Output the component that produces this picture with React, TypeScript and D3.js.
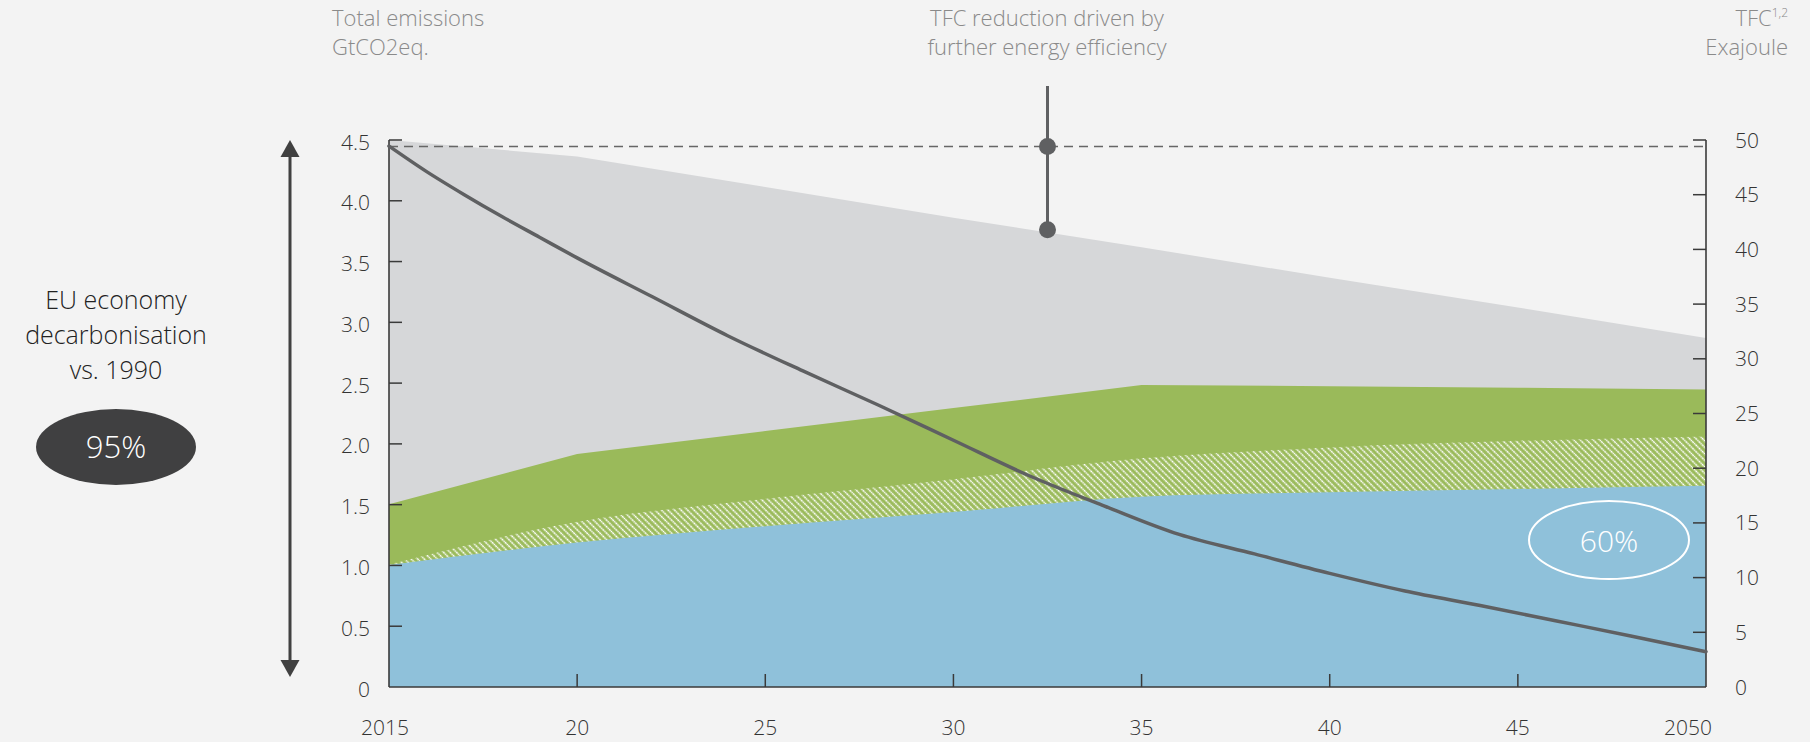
import React from "react";
import * as d3 from "d3";

// Final energy consumption by carrier (Exajoule, right axis)
const years = [2015, 2020, 2025, 2030, 2035, 2040, 2045, 2050];
const tfcTotal = [50.0, 48.5, 45.7, 42.9, 40.2, 37.4, 34.7, 31.9];
const tfcGreen = [16.7, 21.3, 23.4, 25.5, 27.6, 27.5, 27.35, 27.2];
const tfcHatched = [11.2, 15.1, 17.2, 19.0, 20.9, 21.9, 22.5, 22.9];
const tfcBlue = [11.15, 13.2, 14.7, 16.0, 17.4, 17.8, 18.1, 18.4];

// Total emissions (GtCO2eq., left axis)
const emissionYears = [2015, 2016, 2017, 2018, 2019, 2020, 2022, 2024, 2026, 2028, 2030, 2032, 2034, 2036, 2038, 2040, 2042, 2044, 2046, 2048, 2050];
const emissions = [4.45, 4.24, 4.05, 3.87, 3.7, 3.53, 3.21, 2.89, 2.6, 2.32, 2.03, 1.74, 1.49, 1.255, 1.095, 0.935, 0.79, 0.67, 0.545, 0.42, 0.29];

// Reference level and efficiency bracket (Exajoule)
const referenceLevel = 49.4;
const efficiencyYear = 2032.5;
const efficiencyFrom = 49.4;
const efficiencyTo = 41.8;

const leftTicks = [0, 0.5, 1.0, 1.5, 2.0, 2.5, 3.0, 3.5, 4.0, 4.5];
const rightTicks = [0, 5, 10, 15, 20, 25, 30, 35, 40, 45, 50];
const xTicks = [2015, 2020, 2025, 2030, 2035, 2040, 2045, 2050];
const xTickLabels = ["2015", "20", "25", "30", "35", "40", "45", "2050"];

const W = 1810;
const H = 742;
const FONT = "'Open Sans', Lato, 'DejaVu Sans', sans-serif";

export default function App() {
  const x = d3.scaleLinear().domain([2015, 2050]).range([389, 1706]);
  const yL = d3.scaleLinear().domain([0, 4.5]).range([687, 140]);
  const yR = d3.scaleLinear().domain([0, 50]).range([687, 140]);

  const mkArea = (vals: number[], curve: d3.CurveFactory) =>
    d3
      .area<number>()
      .x((_, i) => x(years[i]))
      .y0(yR(0))
      .y1((d) => yR(d))
      .curve(curve)(vals) || "";

  const grayPath = mkArea(tfcTotal, d3.curveLinear);
  const greenPath = mkArea(tfcGreen, d3.curveLinear);
  const hatchPath = mkArea(tfcHatched, d3.curveMonotoneX);
  const bluePath = mkArea(tfcBlue, d3.curveMonotoneX);

  const linePath =
    d3
      .line<number>()
      .x((_, i) => x(emissionYears[i]))
      .y((d) => yL(d))
      .curve(d3.curveMonotoneX)(emissions) || "";

  const axisColor = "#3a3a3a";
  const tickLen = 13;

  // double-headed arrow geometry
  const ax = 290;
  const aTop = 140;
  const aBot = 677;
  const head = 17;
  const half = 9.5;

  return (
    <div style={{ position: "fixed", left: 0, top: 0, width: W, height: H, background: "#f3f3f3" }}>
      <svg width={W} height={H} style={{ display: "block" }} fontFamily={FONT} fontWeight={300}>
        <defs>
          <pattern id="hatch" patternUnits="userSpaceOnUse" width="4.6" height="4.6" patternTransform="rotate(-45)">
            <rect width="4.6" height="4.6" fill="#9aba5a" />
            <line x1="1.3" y1="0" x2="1.3" y2="4.6" stroke="#ffffff" strokeWidth="1.5" strokeDasharray="1.8 0.5" />
          </pattern>
        </defs>

        <rect x={0} y={0} width={W} height={H} fill="#f3f3f3" />

        {/* stacked energy areas */}
        <path d={grayPath} fill="#d6d7d9" />
        <path d={greenPath} fill="#9aba5a" />
        <path d={hatchPath} fill="url(#hatch)" />
        <path d={bluePath} fill="#8fc1da" />

        {/* reference level */}
        <line x1={x(2015)} x2={x(2050)} y1={yR(referenceLevel)} y2={yR(referenceLevel)} stroke="#666" strokeWidth={1.6} strokeDasharray="9 6" />

        {/* axes */}
        <line x1={x(2015)} x2={x(2015)} y1={yL(4.5)} y2={yL(0)} stroke={axisColor} strokeWidth={1.6} />
        <line x1={x(2050)} x2={x(2050)} y1={yR(50)} y2={yR(0)} stroke={axisColor} strokeWidth={1.6} />
        <line x1={x(2015)} x2={x(2050)} y1={yL(0)} y2={yL(0)} stroke={axisColor} strokeWidth={1.6} />

        {leftTicks.map((t) => (
          <g key={"l" + t}>
            {t > 0 && <line x1={x(2015)} x2={x(2015) + tickLen} y1={yL(t)} y2={yL(t)} stroke={axisColor} strokeWidth={1.5} />}
            <text x={370} y={yL(t) + 9.5} textAnchor="end" fontSize={21} fill="#333">
              {t === 0 ? "0" : t.toFixed(1)}
            </text>
          </g>
        ))}
        {rightTicks.map((t) => (
          <g key={"r" + t}>
            {t > 0 && <line x1={x(2050)} x2={x(2050) - tickLen} y1={yR(t)} y2={yR(t)} stroke={axisColor} strokeWidth={1.5} />}
            <text x={1735} y={yR(t) + 7.5} textAnchor="start" fontSize={21} fill="#333">
              {String(t)}
            </text>
          </g>
        ))}
        {xTicks.map((t, i) => {
          const first = i === 0;
          const last = i === xTicks.length - 1;
          return (
            <g key={"x" + t}>
              {!first && !last && <line x1={x(t)} x2={x(t)} y1={yL(0)} y2={yL(0) - tickLen} stroke={axisColor} strokeWidth={1.5} />}
              <text
                x={first ? x(t) - 4 : last ? x(t) + 6 : x(t)}
                y={735}
                textAnchor={last ? "end" : "middle"}
                fontSize={21}
                fill="#333"
              >
                {xTickLabels[i]}
              </text>
            </g>
          );
        })}

        {/* emissions line */}
        <path d={linePath} fill="none" stroke="#5f6062" strokeWidth={3.5} strokeLinejoin="round" strokeLinecap="round" />

        {/* efficiency bracket */}
        <line x1={x(efficiencyYear)} x2={x(efficiencyYear)} y1={86} y2={yR(efficiencyTo)} stroke="#5f6062" strokeWidth={3} />
        <circle cx={x(efficiencyYear)} cy={yR(efficiencyFrom)} r={8.5} fill="#5f6062" />
        <circle cx={x(efficiencyYear)} cy={yR(efficiencyTo)} r={8.5} fill="#5f6062" />

        {/* 60% badge */}
        <ellipse cx={1609} cy={540} rx={80} ry={39} fill="none" stroke="#ffffff" strokeWidth={2} />
        <text x={1609} y={552} textAnchor="middle" fontSize={30} fill="#ffffff">
          60%
        </text>

        {/* header labels */}
        <g fontSize={22} fill="#8a8a8a">
          <text x={332} y={26}>Total emissions</text>
          <text x={332} y={55}>GtCO2eq.</text>
          <text x={1047} y={26} textAnchor="middle">TFC reduction driven by</text>
          <text x={1047} y={55} textAnchor="middle">further energy efficiency</text>
          <text x={1788} y={26} textAnchor="end">
            <tspan>TFC</tspan>
            <tspan fontSize={12} dy={-9}>1,2</tspan>
          </text>
          <text x={1788} y={55} textAnchor="end">Exajoule</text>
        </g>

        {/* decarbonisation annotation */}
        <line x1={ax} x2={ax} y1={aTop + head - 1} y2={aBot - head + 1} stroke="#404040" strokeWidth={3} />
        <path d={`M${ax},${aTop} L${ax + half},${aTop + head} L${ax - half},${aTop + head} Z`} fill="#404040" />
        <path d={`M${ax},${aBot} L${ax + half},${aBot - head} L${ax - half},${aBot - head} Z`} fill="#404040" />
        <g fontSize={25} fill="#222" textAnchor="middle">
          <text x={116} y={309}>EU economy</text>
          <text x={116} y={344}>decarbonisation</text>
          <text x={116} y={379}>vs. 1990</text>
        </g>
        <ellipse cx={116} cy={447} rx={80} ry={38} fill="#404041" />
        <text x={116} y={458} textAnchor="middle" fontSize={31} fill="#ffffff">
          95%
        </text>
      </svg>
    </div>
  );
}
